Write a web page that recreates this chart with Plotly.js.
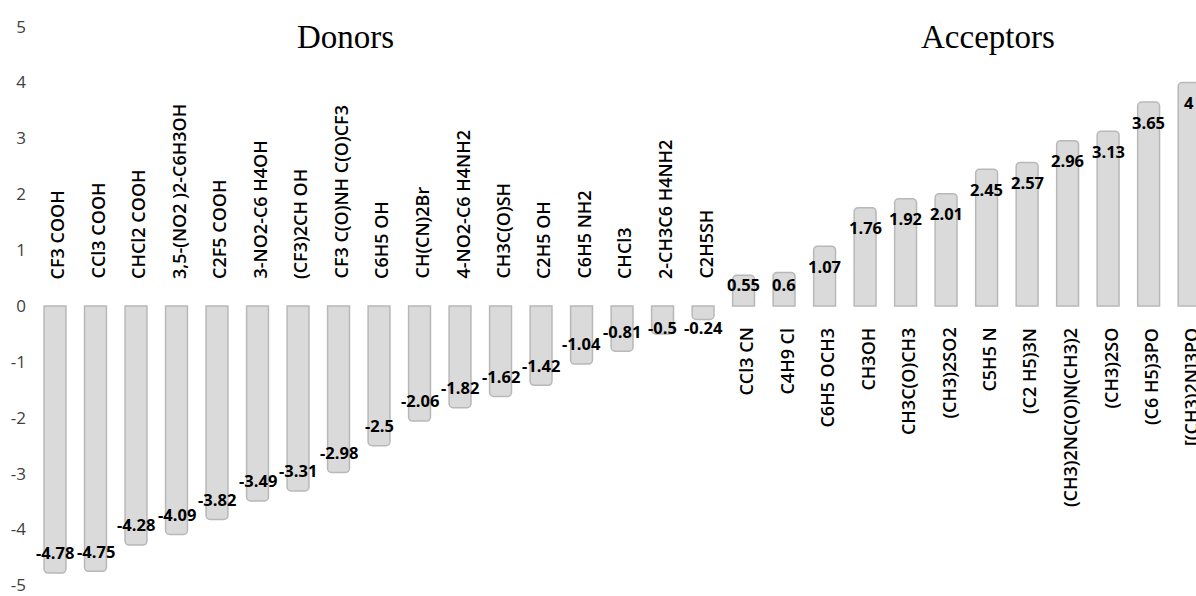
<!DOCTYPE html>
<html>
<head>
<meta charset="utf-8">
<script src="https://cdn.plot.ly/plotly-3.0.1.min.js"></script>
<style>html,body{margin:0;padding:0;background:#fff;}#chart{width:1196px;height:596px;}</style>
</head>
<body>
<div id="chart"></div>
<script>
// Data
const donorNames = ["CF3 COOH","CCl3 COOH","CHCl2 COOH","3,5-(NO2 )2-C6H3OH","C2F5 COOH","3-NO2-C6 H4OH","(CF3)2CH OH","CF3 C(O)NH C(O)CF3","C6H5 OH","CH(CN)2Br","4-NO2-C6 H4NH2","CH3C(O)SH","C2H5 OH","C6H5 NH2","CHCl3","2-CH3C6 H4NH2","C2H5SH"];
const donorValues = [-4.78,-4.75,-4.28,-4.09,-3.82,-3.49,-3.31,-2.98,-2.5,-2.06,-1.82,-1.62,-1.42,-1.04,-0.81,-0.5,-0.24];
const acceptorNames = ["CCl3 CN","C4H9 Cl","C6H5 OCH3","CH3OH","CH3C(O)CH3","(CH3)2SO2","C5H5 N","(C2 H5)3N","(CH3)2NC(O)N(CH3)2","(CH3)2SO","(C6 H5)3PO","[(CH3)2N]3PO"];
const acceptorValues = [0.55,0.6,1.07,1.76,1.92,2.01,2.45,2.57,2.96,3.13,3.65,4];
const groupTitles = ["Donors","Acceptors"];
const yTicks = [-5,-4,-3,-2,-1,0,1,2,3,4,5];
const yTickText = ["-5","-4","-3","-2","-1","0","1","2","3","4","5"];

const names = donorNames.concat(acceptorNames);
const values = donorValues.concat(acceptorValues);

const trace = {
  type: 'bar',
  x: names,
  y: values,
  marker: { color: '#dadada', line: { color: '#b8b8b8', width: 1.5 } },
  hoverinfo: 'x+y'
};

const annotations = [];
const catFont = { family: 'Open Sans, sans-serif', size: 18, color: '#000', weight: 600 };
const valFont = { family: 'Open Sans, sans-serif', size: 16.5, color: '#000', weight: 700 };

names.forEach((n, i) => {
  const v = values[i];
  const neg = v < 0;
  annotations.push({
    x: n, y: 0, xref: 'x', yref: 'y', text: n, showarrow: false,
    textangle: -90, font: catFont,
    xanchor: 'center', yanchor: neg ? 'bottom' : 'top',
    yshift: neg ? 25 : -20, xshift: 2
  });
  const s = neg ? -1 : 1;
  const ly = s * Math.max(Math.abs(v) - 0.36, 0.39);
  annotations.push({
    x: n, y: ly, xref: 'x', yref: 'y', text: String(v), showarrow: false,
    font: valFont, xanchor: 'center', yanchor: 'middle'
  });
});

const titleFont = { family: 'Liberation Serif, Times New Roman, serif', size: 33, color: '#000' };
annotations.push({ x: 7.16, y: 5, xref: 'x', yref: 'y', yshift: -10, text: groupTitles[0], showarrow: false,
  font: titleFont, xanchor: 'center', yanchor: 'middle' });
annotations.push({ x: 23.04, y: 5, xref: 'x', yref: 'y', yshift: -10, text: groupTitles[1], showarrow: false,
  font: titleFont, xanchor: 'center', yanchor: 'middle' });

const layout = {
  width: 1196, height: 596,
  margin: { l: 30, r: 0, t: 25, b: 9 },
  paper_bgcolor: '#fff', plot_bgcolor: '#fff',
  showlegend: false,
  bargap: 0.46,
  barcornerradius: 4,
  xaxis: {
    type: 'category', range: [-0.617, 28.17],
    showticklabels: false, showgrid: false, zeroline: false, showline: false, ticks: ''
  },
  yaxis: {
    range: [-5.03, 5.03], tickvals: yTicks, ticktext: yTickText,
    showgrid: false, zeroline: false, showline: false, ticks: '',
    tickfont: { family: 'Open Sans, sans-serif', size: 17, color: '#404040' },
    ticklabelstandoff: 3, ticklabeloverflow: 'allow'
  },
  annotations: annotations
};

Plotly.newPlot('chart', [trace], layout, { displayModeBar: false, staticPlot: true });
</script>
</body>
</html>
